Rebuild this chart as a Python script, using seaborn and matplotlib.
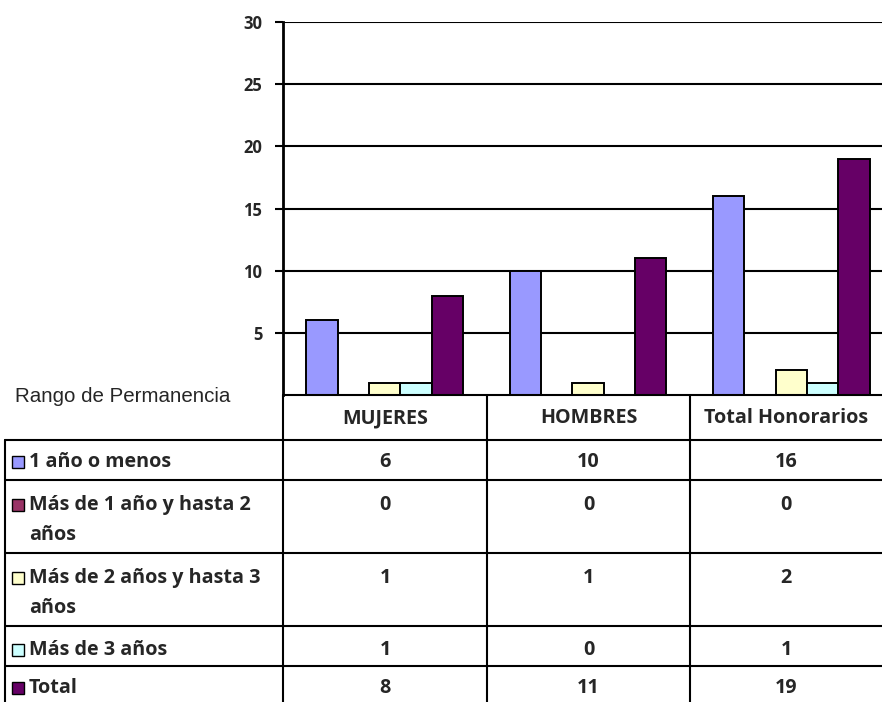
import matplotlib.pyplot as plt
import numpy as np
import pandas as pd
import seaborn as sns
from matplotlib.lines import Line2D
from matplotlib.patches import Rectangle

categorias = ["MUJERES", "HOMBRES", "Total Honorarios"]
series = [
    "1 año o menos",
    "Más de 1 año y hasta 2 años",
    "Más de 2 años y hasta 3 años",
    "Más de 3 años",
    "Total",
]
etiquetas_tabla = [
    "1 año o menos",
    "Más de 1 año y hasta 2\naños",
    "Más de 2 años y hasta 3\naños",
    "Más de 3 años",
    "Total",
]
valores = [
    [6, 10, 16],
    [0, 0, 0],
    [1, 1, 2],
    [1, 0, 1],
    [8, 11, 19],
]
colores = ["#9999FF", "#993366", "#FFFFCC", "#CCFFFF", "#660066"]
yticks = [5, 10, 15, 20, 25, 30]

W, H = 882, 702
FS = 14.2


def fx(x):
    return x / W


def fy(y):
    return 1 - y / H


df = pd.DataFrame(
    [(c, s, valores[i][j]) for i, s in enumerate(series) for j, c in enumerate(categorias)],
    columns=["categoria", "serie", "valor"],
)

sns.set_style("white")
plt.rcParams["font.family"] = ["Open Sans", "DejaVu Sans"]

fig = plt.figure(figsize=(W / 100, H / 100), dpi=100)
ax_left, ax_right, ax_top, ax_bottom = 283, 893, 22, 395
ax = fig.add_axes([fx(ax_left), fy(ax_bottom), fx(ax_right - ax_left), (ax_bottom - ax_top) / H])

sns.barplot(
    data=df, x="categoria", y="valor", hue="serie", hue_order=series,
    palette=colores, saturation=1, width=0.77, gap=0, edgecolor="black",
    linewidth=1.4, legend=False, ax=ax, zorder=3,
)
# Excel no dibuja las barras de valor cero
for p in ax.patches:
    if p.get_height() == 0:
        p.set_visible(False)

ax.set_xlim(-0.5, 2.5)
ax.set_ylim(0, 30)
ax.set_yticks(yticks)
ax.set_yticklabels([str(t) for t in yticks], fontsize=12, fontweight="bold")
ax.set_xticks([])
ax.set_xlabel("")
ax.set_ylabel("")
ax.tick_params(axis="y", length=6, width=1.5, color="black", pad=9, left=True)
for t in yticks:
    ax.axhline(t, color="black", lw=1.5, zorder=1)
for side in ["top", "right", "bottom"]:
    ax.spines[side].set_visible(False)
ax.spines["left"].set_linewidth(2)
ax.spines["left"].set_color("black")

# tabla de datos
col_x = [283, 487, 690, 893]
row_y = [395, 440, 480, 553, 626, 666, 706]
lw = 1.5


def line(x0, y0, x1, y1):
    fig.add_artist(Line2D([fx(x0), fx(x1)], [fy(y0), fy(y1)], color="black", lw=lw))


line(283, 395, W, 395)
for x in col_x[:3]:
    line(x, 395, x, H)
line(5, 440, 5, H)
for y in row_y[1:6]:
    line(5, y, W, y)

fig.text(fx(15), fy(397), "Rango de Permanencia", fontsize=14.8,
         family=["Liberation Sans", "DejaVu Sans"], va="center", ha="left")

centros = [(283 + 487) / 2, (487 + 690) / 2, (690 + 882) / 2]
for j, c in enumerate(categorias):
    fig.text(fx(centros[j]), fy(418), c, fontsize=FS, fontweight="bold",
             ha="center", va="center")

first_line_y = [462, 505, 578, 650, 688]
for i, lab in enumerate(etiquetas_tabla):
    y0 = first_line_y[i]
    fig.add_artist(Rectangle((fx(12), fy(y0 + 6)), fx(12), 12 / H,
                             facecolor=colores[i], edgecolor="black", lw=1.0))
    for k, txt in enumerate(lab.split("\n")):
        fig.text(fx(29), fy(y0 + 30 * k), txt, fontsize=FS, fontweight="bold",
                 ha="left", va="center")
    for j in range(3):
        fig.text(fx(centros[j]), fy(y0), str(valores[i][j]), fontsize=FS,
                 fontweight="bold", ha="center", va="center")

fig.savefig("out.png", dpi=100)
